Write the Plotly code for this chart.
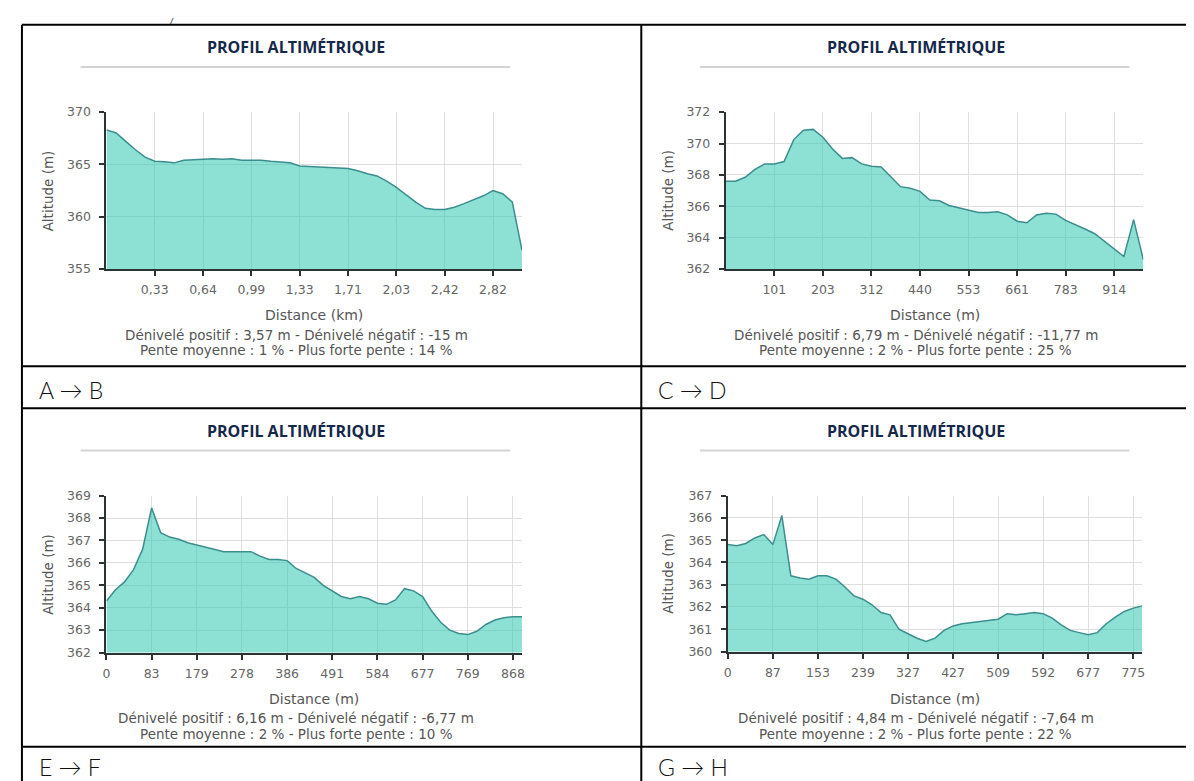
import plotly.graph_objects as go

W, H = 1194, 781

# ---------------- data ----------------
chart_title = "PROFIL ALTIMÉTRIQUE"
y_title = "Altitude (m)"
route_labels = ["A → B", "C → D", "E → F", "G → H"]
x_titles = ["Distance (km)", "Distance (m)", "Distance (m)", "Distance (m)"]

ab_alt = [368.3, 368.0, 367.2, 366.4, 365.7, 365.3, 365.25, 365.15, 365.4, 365.45,
          365.5, 365.55, 365.5, 365.55, 365.4, 365.4, 365.4, 365.3, 365.2, 365.15,
          364.85, 364.8, 364.7, 364.7, 364.6, 364.6, 364.4, 364.1, 363.9, 363.4,
          362.8, 362.1, 361.4, 360.8, 360.7, 360.7, 360.9, 361.25, 361.6, 362.0,
          362.5, 362.2, 361.4, 356.8]
ab_ticks = ["0,33", "0,64", "0,99", "1,33", "1,71", "2,03", "2,42", "2,82"]
ab_stats = ["Dénivelé positif : 3,57 m - Dénivelé négatif : -15 m",
            "Pente moyenne : 1 % - Plus forte pente : 14 %"]

cd_alt = [367.6, 367.6, 367.85, 368.35, 368.7, 368.7, 368.85, 370.25, 370.85, 370.9,
          370.4, 369.65, 369.05, 369.1, 368.7, 368.55, 368.5, 367.9, 367.25, 367.15,
          366.95, 366.4, 366.35, 366.05, 365.9, 365.75, 365.6, 365.6, 365.65, 365.45,
          365.05, 364.95, 365.45, 365.55, 365.5, 365.1, 364.85, 364.55, 364.25, 363.75,
          363.25, 362.8, 365.15, 362.6]
cd_ticks = ["101", "203", "312", "440", "553", "661", "783", "914"]
cd_stats = ["Dénivelé positif : 6,79 m - Dénivelé négatif : -11,77 m",
            "Pente moyenne : 2 % - Plus forte pente : 25 %"]

ef_alt = [364.3, 364.8, 365.15, 365.7, 366.6, 368.45, 367.35, 367.15, 367.05, 366.9,
          366.8, 366.7, 366.6, 366.5, 366.5, 366.5, 366.5, 366.3, 366.15, 366.15,
          366.1, 365.75, 365.55, 365.35, 365.0, 364.75, 364.5, 364.4, 364.5, 364.4,
          364.2, 364.15, 364.35, 364.85, 364.75, 364.5, 363.85, 363.35, 363.0, 362.85,
          362.8, 362.95, 363.25, 363.45, 363.55, 363.6, 363.6]
ef_ticks = ["0", "83", "179", "278", "386", "491", "584", "677", "769", "868"]
ef_stats = ["Dénivelé positif : 6,16 m - Dénivelé négatif : -6,77 m",
            "Pente moyenne : 2 % - Plus forte pente : 10 %"]

gh_alt = [364.8, 364.75, 364.85, 365.1, 365.25, 364.8, 366.1, 363.4, 363.3, 363.25,
          363.4, 363.4, 363.25, 362.9, 362.5, 362.35, 362.1, 361.75, 361.65, 361.0,
          360.8, 360.6, 360.45, 360.6, 360.95, 361.15, 361.25, 361.3, 361.35, 361.4,
          361.45, 361.7, 361.65, 361.7, 361.75, 361.7, 361.5, 361.2, 360.95, 360.85,
          360.75, 360.85, 361.25, 361.55, 361.8, 361.95, 362.05]
gh_ticks = ["0", "87", "153", "239", "327", "427", "509", "592", "677", "775"]
gh_stats = ["Dénivelé positif : 4,84 m - Dénivelé négatif : -7,64 m",
            "Pente moyenne : 2 % - Plus forte pente : 22 %"]

POINTS_PER_TICK = 5

# ---------------- layout helpers ----------------
def fx(x):
    return x / W


def fy(y):
    return 1 - y / H


panels = [
    dict(alt=ab_alt, ticks=ab_ticks, first=1, yr=(355, 370), dy=5, ox=10, oy=9,
         plot=(95, 513, 98, 258), stats=ab_stats, label_y=381),
    dict(alt=cd_alt, ticks=cd_ticks, first=1, yr=(362, 372), dy=2, ox=633, oy=9,
         plot=(718, 1138, 98, 258), stats=cd_stats, label_y=381),
    dict(alt=ef_alt, ticks=ef_ticks, first=0, yr=(362, 369), dy=1, ox=10, oy=400,
         plot=(95, 513, 489, 649), stats=ef_stats, label_y=766),
    dict(alt=gh_alt, ticks=gh_ticks, first=0, yr=(360, 367), dy=1, ox=633, oy=400,
         plot=(720, 1137, 489, 648), stats=gh_stats, label_y=766),
]

TICK_FONT = dict(family="DejaVu Sans", size=12.5, color="#666666")
TEXT_COLOR = "#555555"
AXIS_COLOR = "#2b3333"
GRID_COLOR = "#dedede"

fig = go.Figure()
annotations = []
shapes = []

for k, p in enumerate(panels):
    n = k + 1
    xa = "x" if n == 1 else f"x{n}"
    ya = "y" if n == 1 else f"y{n}"
    x0, x1, y0, y1 = p["plot"]
    xs = list(range(len(p["alt"])))
    fig.add_trace(go.Scatter(
        x=xs, y=p["alt"], mode="lines", fill="tozeroy",
        fillcolor="rgba(48,200,176,0.55)",
        line=dict(color="#3b8e8e", width=1.5),
        xaxis=xa, yaxis=ya, showlegend=False, hoverinfo="skip"))

    tickvals = [POINTS_PER_TICK * (p["first"] + j) for j in range(len(p["ticks"]))]
    xkey = "xaxis" if n == 1 else f"xaxis{n}"
    ykey = "yaxis" if n == 1 else f"yaxis{n}"
    fig.update_layout(**{
        xkey: dict(domain=[fx(x0), fx(x1)], range=[0, len(p["alt"]) - 1],
                   anchor=ya, tickmode="array", tickvals=tickvals, ticktext=p["ticks"],
                   showgrid=True, gridcolor=GRID_COLOR, gridwidth=1,
                   showline=True, linecolor=AXIS_COLOR, linewidth=2,
                   ticks="outside", ticklen=5, tickwidth=1.5, tickcolor=AXIS_COLOR,
                   tickfont=TICK_FONT, ticklabelstandoff=3, zeroline=False,
                   fixedrange=True),
        ykey: dict(domain=[fy(y1), fy(y0)], range=list(p["yr"]), anchor=xa,
                   tick0=p["yr"][0], dtick=p["dy"],
                   showgrid=True, gridcolor=GRID_COLOR, gridwidth=1,
                   showline=True, linecolor=AXIS_COLOR, linewidth=2,
                   ticks="outside", ticklen=5, tickwidth=1.5, tickcolor=AXIS_COLOR,
                   tickfont=TICK_FONT, ticklabelstandoff=6, zeroline=False,
                   fixedrange=True),
    })

    ox, oy = p["ox"], p["oy"]
    # chart title and its rule
    annotations.append(dict(x=fx(ox + 276), y=fy(oy + 23), xref="paper", yref="paper",
                            text=f"<b>{chart_title}</b>", showarrow=False,
                            xanchor="center", yanchor="middle",
                            font=dict(family="Open Sans", size=16, color="#14284b")))
    shapes.append(dict(type="line", xref="paper", yref="paper",
                       x0=fx(ox + 59), x1=fx(ox + 491), y0=fy(oy + 43), y1=fy(oy + 43),
                       line=dict(color="#d4d4d4", width=2)))
    # axis titles
    annotations.append(dict(x=fx((x0 + x1) / 2), y=fy(oy + 296), xref="paper", yref="paper",
                            text=x_titles[k], showarrow=False, xanchor="center",
                            yanchor="middle",
                            font=dict(family="DejaVu Sans", size=14, color=TEXT_COLOR)))
    annotations.append(dict(x=fx(ox + 26), y=fy((y0 + y1) / 2), xref="paper", yref="paper",
                            text=y_title, showarrow=False, textangle=-90,
                            xanchor="center", yanchor="middle",
                            font=dict(family="DejaVu Sans", size=13.5, color=TEXT_COLOR)))
    # statistics lines
    for j, line in enumerate(p["stats"]):
        annotations.append(dict(x=fx(ox + 276), y=fy(oy + 316 + 16 * j), xref="paper",
                                yref="paper", text=line, showarrow=False,
                                xanchor="center", yanchor="middle",
                                font=dict(family="DejaVu Sans", size=13.5, color=TEXT_COLOR)))
    # route label in the table row
    annotations.append(dict(x=fx(ox + 15), y=fy(p["label_y"]), xref="paper", yref="paper",
                            text=route_labels[k], showarrow=False, xanchor="left",
                            yanchor="middle",
                            font=dict(family="Lato, DejaVu Sans", size=23, weight=300,
                                      color="#111111")))

# table grid lines
for yy in (9, 357, 400, 745):
    shapes.append(dict(type="line", xref="paper", yref="paper", x0=fx(10), x1=1,
                       y0=fy(yy), y1=fy(yy), line=dict(color="black", width=2)))
for xx in (10, 633):
    shapes.append(dict(type="line", xref="paper", yref="paper", x0=fx(xx), x1=fx(xx),
                       y0=fy(9), y1=0, line=dict(color="black", width=2)))

# partly visible glyph at the very top of the page
annotations.append(dict(x=fx(160), y=1, xref="paper", yref="paper", text="<i>/</i>",
                        showarrow=False, xanchor="center", yanchor="top",
                        font=dict(family="DejaVu Sans", size=8, color="#111111")))

fig.update_layout(width=W, height=H, margin=dict(l=0, r=0, t=0, b=0),
                  paper_bgcolor="white", plot_bgcolor="white",
                  annotations=annotations, shapes=shapes, showlegend=False)

fig.write_html("out.html")
